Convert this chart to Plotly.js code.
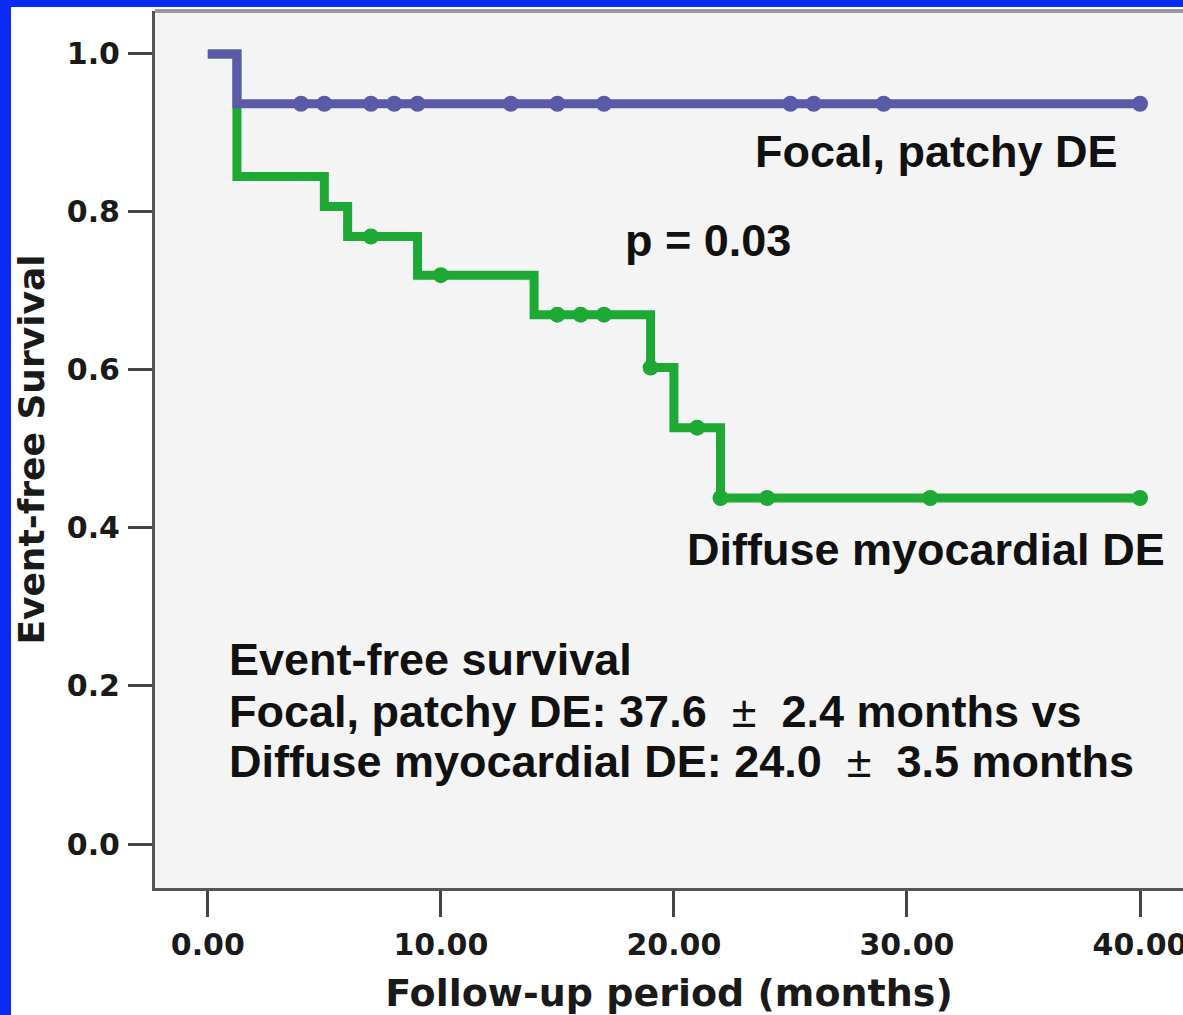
<!DOCTYPE html>
<html>
<head>
<meta charset="utf-8">
<script src="https://cdn.plot.ly/plotly-3.0.1.min.js"></script>
<style>
  html, body { margin: 0; padding: 0; background: #0a2af5; width: 1183px; height: 1015px; overflow: hidden; }
  #chart { position: absolute; left: 11px; top: 7px; width: 1172px; height: 1008px; }
</style>
</head>
<body>
<div id="chart"></div>
<script>
// Kaplan-Meier step curves: time (months) and event-free survival at each step
const focalTimes = [0, 1.25, 40];
const focalSurvival = [1.0, 0.937, 0.937];
const focalCensored = [4, 5, 7, 8, 9, 13, 15, 17, 25, 26, 29, 40];

const diffuseTimes = [0, 1.25, 5, 6, 9, 14, 19, 20, 22, 40];
const diffuseSurvival = [1.0, 0.845, 0.807, 0.769, 0.720, 0.670, 0.603, 0.527, 0.438, 0.438];
const diffuseCensored = [7, 10, 15, 16, 17, 19, 21, 22, 24, 31, 40];

const xTickVals = [0, 10, 20, 30, 40];
const xTickText = ['0.00', '10.00', '20.00', '30.00', '40.00'];
const yTickVals = [0, 0.2, 0.4, 0.6, 0.8, 1.0];
const yTickText = ['0.0', '0.2', '0.4', '0.6', '0.8', '1.0'];

const focalColor = '#5a5aa8';
const diffuseColor = '#1ea834';

// survival level of a step curve at time t (step applies from its own time on)
function levelAt(times, surv, t) {
  let s = surv[0];
  for (let i = 0; i < times.length; i++) {
    if (times[i] <= t) s = surv[i];
  }
  return s;
}

function curveTraces(times, surv, censored, color) {
  return [
    {
      x: times, y: surv, type: 'scatter', mode: 'lines',
      line: { shape: 'hv', color: color, width: 9 },
      hoverinfo: 'skip'
    },
    {
      x: censored, y: censored.map(t => levelAt(times, surv, t)),
      type: 'scatter', mode: 'markers',
      marker: { symbol: 'circle', size: 16, color: color },
      hoverinfo: 'skip'
    }
  ];
}

const data = [
  ...curveTraces(diffuseTimes, diffuseSurvival, diffuseCensored, diffuseColor),
  ...curveTraces(focalTimes, focalSurvival, focalCensored, focalColor)
];

const noteFont = { family: 'Liberation Sans, Arial, sans-serif', size: 45, weight: 'bold', color: '#111' };
const pm = '\u00a0\u00a0<span style="font-weight:normal">\u00b1</span>\u00a0\u00a0';

const layout = {
  width: 1172,
  height: 1008,
  margin: { l: 144, r: 0, t: 4, b: 127, pad: 0 },
  paper_bgcolor: '#ffffff',
  plot_bgcolor: '#f4f4f4',
  showlegend: false,
  hovermode: false,
  font: { family: 'DejaVu Sans, sans-serif', color: '#1a1a1a' },
  xaxis: {
    range: [-2.266, 41.845],
    tickvals: xTickVals,
    ticktext: xTickText,
    ticks: 'outside', ticklen: 26, tickwidth: 3, tickcolor: '#444',
    ticklabelstandoff: 2,
    ticklabeloverflow: 'allow',
    showline: true, linecolor: '#555', linewidth: 3,
    showgrid: false, zeroline: false,
    tickfont: { size: 30, weight: 'bold', color: '#1a1a1a' },
    title: { text: 'Follow-up period (months)', font: { size: 38, weight: 'bold', color: '#1a1a1a' }, standoff: 22 }
  },
  yaxis: {
    range: [-0.0557, 1.0544],
    tickvals: yTickVals,
    ticktext: yTickText,
    ticks: 'outside', ticklen: 24, tickwidth: 3, tickcolor: '#444',
    ticklabelstandoff: 2,
    showline: true, linecolor: '#555', linewidth: 3,
    showgrid: false, zeroline: false,
    tickfont: { size: 30, weight: 'bold', color: '#1a1a1a' },
    title: { text: 'Event-free Survival', font: { size: 36, weight: 'bold', color: '#1a1a1a' }, standoff: 24 }
  },
  shapes: [
    { type: 'line', xref: 'paper', yref: 'paper', x0: 0, x1: 1, y0: 1, y1: 1,
      line: { color: '#9a9a9a', width: 4 } }
  ],
  annotations: [
    { text: 'Focal, patchy DE', x: 39.14, y: 0.876, xanchor: 'right', yanchor: 'middle', showarrow: false, font: noteFont },
    { text: 'p = 0.03', x: 17.82, y: 0.764, xanchor: 'left', yanchor: 'middle', showarrow: false, font: noteFont },
    { text: 'Diffuse myocardial DE', x: 20.48, y: 0.373, xanchor: 'left', yanchor: 'middle', showarrow: false, font: noteFont },
    { text: 'Event-free survival', x: 0.83, y: 0.233, xanchor: 'left', yanchor: 'middle', showarrow: false, font: noteFont },
    { text: 'Focal, patchy DE: 37.6' + pm + '2.4 months vs', x: 0.83, y: 0.168, xanchor: 'left', yanchor: 'middle', showarrow: false, font: noteFont },
    { text: 'Diffuse myocardial DE: 24.0' + pm + '3.5 months', x: 0.83, y: 0.104, xanchor: 'left', yanchor: 'middle', showarrow: false, font: noteFont }
  ]
};

Plotly.newPlot('chart', data, layout, { displayModeBar: false, staticPlot: true });
</script>
</body>
</html>
